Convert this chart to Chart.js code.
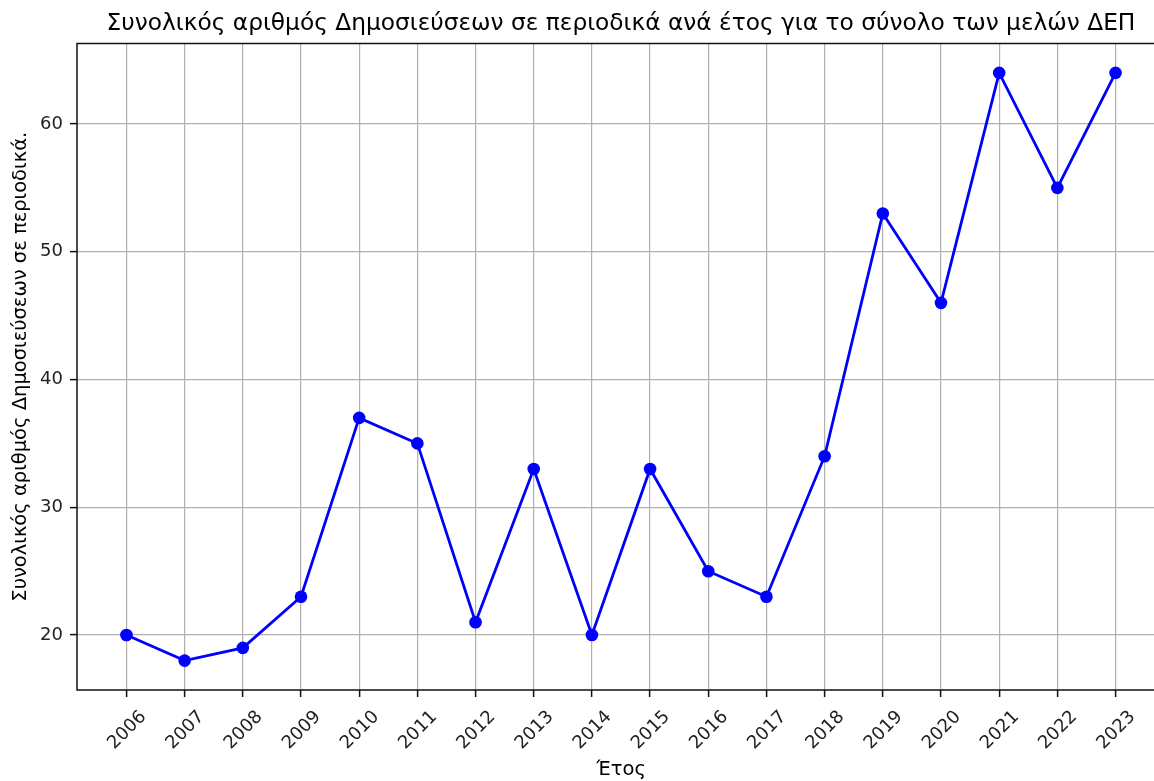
<!DOCTYPE html>
<html>
<head>
<meta charset="utf-8">
<script src="https://cdn.jsdelivr.net/npm/chart.js@4"></script>
<style>
html,body{margin:0;padding:0;background:#fff;overflow:hidden;}
#wrap{width:1154px;height:781px;overflow:hidden;position:relative;}
canvas{position:absolute;left:0;top:0;}
</style>
</head>
<body>
<div id="wrap"><canvas id="c" width="1180" height="781"></canvas></div>
<script>
const years = [2006,2007,2008,2009,2010,2011,2012,2013,2014,2015,2016,2017,2018,2019,2020,2021,2022,2023];
const publications = [20,18,19,23,37,35,21,33,20,33,25,23,34,53,46,64,55,64];
const yTicks = [20,30,40,50,60];
const titleText = 'Συνολικός αριθμός Δημοσιεύσεων σε περιοδικά ανά έτος για το σύνολο των μελών ΔΕΠ';
const xLabel = 'Έτος';
const yLabel = 'Συνολικός αριθμός Δημοσιεύσεων σε περιοδικά.';

const FONT = 'DejaVu Sans';

const decor = {
  id: 'decor',
  afterDraw(chart) {
    const ctx = chart.ctx;
    const a = chart.chartArea;
    const xs = chart.scales.x;
    ctx.save();
    // frame
    ctx.strokeStyle = '#111';
    ctx.lineWidth = 1.5;
    ctx.strokeRect(a.left, a.top, a.right - a.left, a.bottom - a.top);
    // title
    ctx.fillStyle = '#000';
    ctx.font = '23.3px "' + FONT + '"';
    ctx.textAlign = 'center';
    ctx.textBaseline = 'alphabetic';
    ctx.fillText(titleText, (a.left + a.right) / 2, 30);
    // x tick labels rotated 45, centered on tick
    ctx.font = '18px "' + FONT + '"';
    ctx.fillStyle = '#222';
    years.forEach(function (yr) {
      const px = xs.getPixelForValue(yr);
      const txt = String(yr);
      const m = ctx.measureText(txt);
      ctx.save();
      ctx.translate(px - 0.5, 729);
      ctx.rotate(-Math.PI / 4);
      ctx.textAlign = 'center';
      ctx.textBaseline = 'alphabetic';
      ctx.fillText(txt, 0, (m.actualBoundingBoxAscent - m.actualBoundingBoxDescent) / 2);
      ctx.restore();
    });
    // x label
    ctx.font = '19.5px "' + FONT + '"';
    ctx.fillStyle = '#000';
    ctx.textAlign = 'center';
    ctx.textBaseline = 'alphabetic';
    ctx.fillText(xLabel, (a.left + a.right) / 2, 775);
    // y label
    ctx.save();
    ctx.translate(21, (a.top + a.bottom) / 2);
    ctx.rotate(-Math.PI / 2);
    ctx.textAlign = 'center';
    ctx.textBaseline = 'middle';
    ctx.fillText(yLabel, 0, 0);
    ctx.restore();
    ctx.restore();
  }
};

new Chart(document.getElementById('c'), {
  type: 'line',
  data: {
    datasets: [{
      data: years.map((y, i) => ({x: y, y: publications[i]})),
      borderColor: '#0000ff',
      backgroundColor: '#0000ff',
      borderWidth: 2.8,
      pointRadius: 6.3,
      pointHoverRadius: 6.3,
      pointBorderWidth: 0,
      tension: 0,
      fill: false
    }]
  },
  options: {
    responsive: false,
    animation: false,
    devicePixelRatio: 1,
    layout: {padding: {top: 43.5, right: 15, left: 0, bottom: 0}},
    plugins: {legend: {display: false}, tooltip: {enabled: false}, title: {display: false}},
    scales: {
      x: {
        type: 'linear',
        min: 2005.15,
        max: 2023.85,
        afterBuildTicks(s) { s.ticks = years.map(v => ({value: v})); },
        afterFit(s) { s.height = 91; },
        ticks: {display: false},
        grid: {color: '#b0b0b0', lineWidth: 1.2, tickColor: '#111', tickWidth: 1.5, tickLength: 7, drawTicks: true},
        border: {display: false}
      },
      y: {
        min: 15.7,
        max: 66.3,
        afterBuildTicks(s) { s.ticks = yTicks.map(v => ({value: v})); },
        afterFit(s) { s.width = 77; },
        ticks: {font: {family: FONT, size: 18}, color: '#222', padding: 7},
        grid: {color: '#b0b0b0', lineWidth: 1.2, tickColor: '#111', tickWidth: 1.5, tickLength: 7, drawTicks: true},
        border: {display: false}
      }
    }
  },
  plugins: [decor]
});
</script>
</body>
</html>
